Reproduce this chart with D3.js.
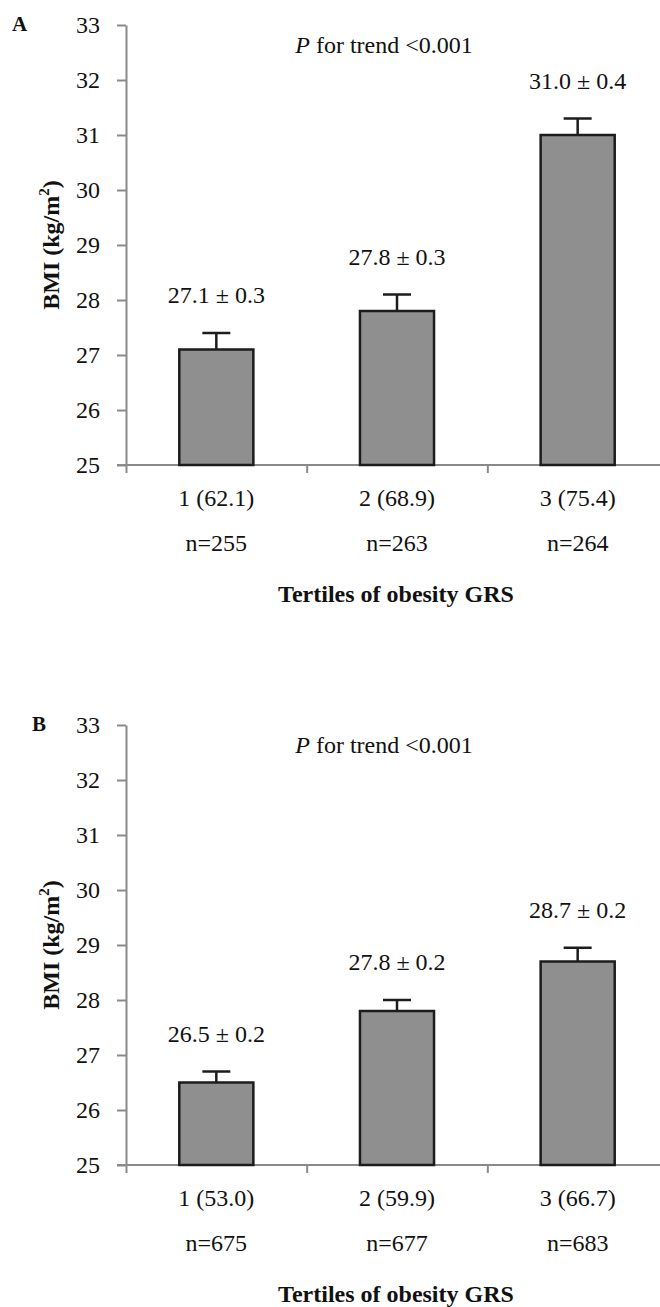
<!DOCTYPE html>
<html>
<head>
<meta charset="utf-8">
<script src="https://cdnjs.cloudflare.com/ajax/libs/d3/7.8.5/d3.min.js"></script>
<style>
  html, body { margin: 0; padding: 0; background: #fff; }
  svg { display: block; font-family: "Liberation Serif", "Times New Roman", serif; }
</style>
</head>
<body>
<svg id="chart" width="660" height="1307"></svg>
<script>
// data
var yTicks = [25, 26, 27, 28, 29, 30, 31, 32, 33];

var categoriesA = ["1 (62.1)", "2 (68.9)", "3 (75.4)"];
var countsA = ["n=255", "n=263", "n=264"];
var meansA = [27.1, 27.8, 31.0];
var errorsA = [0.3, 0.3, 0.3];
var labelsA = ["27.1 \u00b1 0.3", "27.8 \u00b1 0.3", "31.0 \u00b1 0.4"];

var categoriesB = ["1 (53.0)", "2 (59.9)", "3 (66.7)"];
var countsB = ["n=675", "n=677", "n=683"];
var meansB = [26.5, 27.8, 28.7];
var errorsB = [0.2, 0.2, 0.25];
var labelsB = ["26.5 \u00b1 0.2", "27.8 \u00b1 0.2", "28.7 \u00b1 0.2"];

var svg = d3.select("#chart");

function drawPanel(letter, letterX, top, bottom, cats, counts, means, errs, labels){
	var g = svg.append("g");
	var left = 126, right = 668;

	var y = d3.scaleLinear().domain([25, 33]).range([bottom, top]);
	var x = d3.scaleBand().domain(cats).range([left, right]).paddingInner(0.59).paddingOuter(0.295);
	var xb = d3.scaleLinear().domain([0, cats.length]).range([left, right]);

	// y axis
	var ya = g.append("g").attr("transform", "translate(" + left + ",0)")
		.call(d3.axisLeft(y).tickValues(yTicks).tickSize(9).tickSizeOuter(0).tickPadding(17));
	ya.selectAll("path,line").attr("stroke", "#8a8a8a").attr("stroke-width", 2);
	ya.selectAll("text").attr("font-size", 24).attr("fill", "#111").attr("font-family", "Liberation Serif");

	// x axis (ticks at band boundaries)
	var xa = g.append("g").attr("transform", "translate(0," + bottom + ")")
		.call(d3.axisBottom(xb).tickValues([0, 1, 2, 3]).tickFormat("").tickSize(8).tickSizeOuter(0));
	xa.select("path").attr("stroke", "#8a8a8a").attr("stroke-width", 2).attr("d", "M" + (left - 9) + ",0H" + right);
	xa.selectAll("line").attr("stroke", "#8a8a8a").attr("stroke-width", 2);

	// bars
	g.selectAll("rect.bar").data(means).enter().append("rect")
		.attr("class", "bar")
		.attr("x", function(d, i){ return x(cats[i]); })
		.attr("y", function(d){ return y(d); })
		.attr("width", x.bandwidth())
		.attr("height", function(d){ return bottom - y(d); })
		.attr("fill", "#8f8f8f")
		.attr("stroke", "#1c1c1c")
		.attr("stroke-width", 2.5);

	// error bars
	var cx = function(i){ return x(cats[i]) + x.bandwidth() / 2; };
	g.selectAll("line.err").data(means).enter().append("line")
		.attr("class", "err")
		.attr("x1", function(d, i){ return cx(i); })
		.attr("x2", function(d, i){ return cx(i); })
		.attr("y1", function(d){ return y(d); })
		.attr("y2", function(d, i){ return y(d + errs[i]); })
		.attr("stroke", "#1c1c1c").attr("stroke-width", 2.5);
	g.selectAll("line.cap").data(means).enter().append("line")
		.attr("class", "cap")
		.attr("x1", function(d, i){ return cx(i) - 14; })
		.attr("x2", function(d, i){ return cx(i) + 14; })
		.attr("y1", function(d, i){ return y(d + errs[i]); })
		.attr("y2", function(d, i){ return y(d + errs[i]); })
		.attr("stroke", "#1c1c1c").attr("stroke-width", 2.5);

	// value labels
	g.selectAll("text.val").data(labels).enter().append("text")
		.attr("class", "val")
		.attr("x", function(d, i){ return cx(i); })
		.attr("y", function(d, i){ return y(means[i] + errs[i]) - 30; })
		.attr("text-anchor", "middle").attr("font-size", 24).attr("fill", "#111")
		.text(function(d){ return d; });

	// category labels and counts
	g.selectAll("text.cat").data(cats).enter().append("text")
		.attr("x", function(d, i){ return cx(i); })
		.attr("y", bottom + 41)
		.attr("text-anchor", "middle").attr("font-size", 24).attr("fill", "#111")
		.text(function(d){ return d; });
	g.selectAll("text.cnt").data(counts).enter().append("text")
		.attr("x", function(d, i){ return cx(i); })
		.attr("y", bottom + 86)
		.attr("text-anchor", "middle").attr("font-size", 24).attr("fill", "#111")
		.text(function(d){ return d; });

	// x title
	g.append("text")
		.attr("x", 396).attr("y", bottom + 137)
		.attr("text-anchor", "middle").attr("font-size", 24).attr("font-weight", "bold").attr("fill", "#111")
		.text("Tertiles of obesity GRS");

	// y title
	var yt = g.append("text")
		.attr("transform", "translate(59," + ((top + bottom) / 2) + ") rotate(-90)")
		.attr("text-anchor", "middle").attr("font-size", 24).attr("font-weight", "bold").attr("fill", "#111");
	yt.append("tspan").text("BMI (kg/m");
	yt.append("tspan").attr("font-size", 15).attr("dy", -10).text("2");
	yt.append("tspan").attr("dy", 10).text(")");

	// p for trend
	var pt = g.append("text")
		.attr("x", 384).attr("y", top + 28)
		.attr("text-anchor", "middle").attr("font-size", 24).attr("fill", "#111");
	pt.append("tspan").attr("font-style", "italic").text("P");
	pt.append("tspan").text(" for trend <0.001");

	// panel letter
	g.append("text")
		.attr("x", letterX).attr("y", top + 6)
		.attr("font-size", 21).attr("font-weight", "bold").attr("fill", "#111")
		.text(letter);
}

drawPanel("A", 12, 25, 465, categoriesA, countsA, meansA, errorsA, labelsA);
drawPanel("B", 32, 725, 1165, categoriesB, countsB, meansB, errorsB, labelsB);
</script>
</body>
</html>
